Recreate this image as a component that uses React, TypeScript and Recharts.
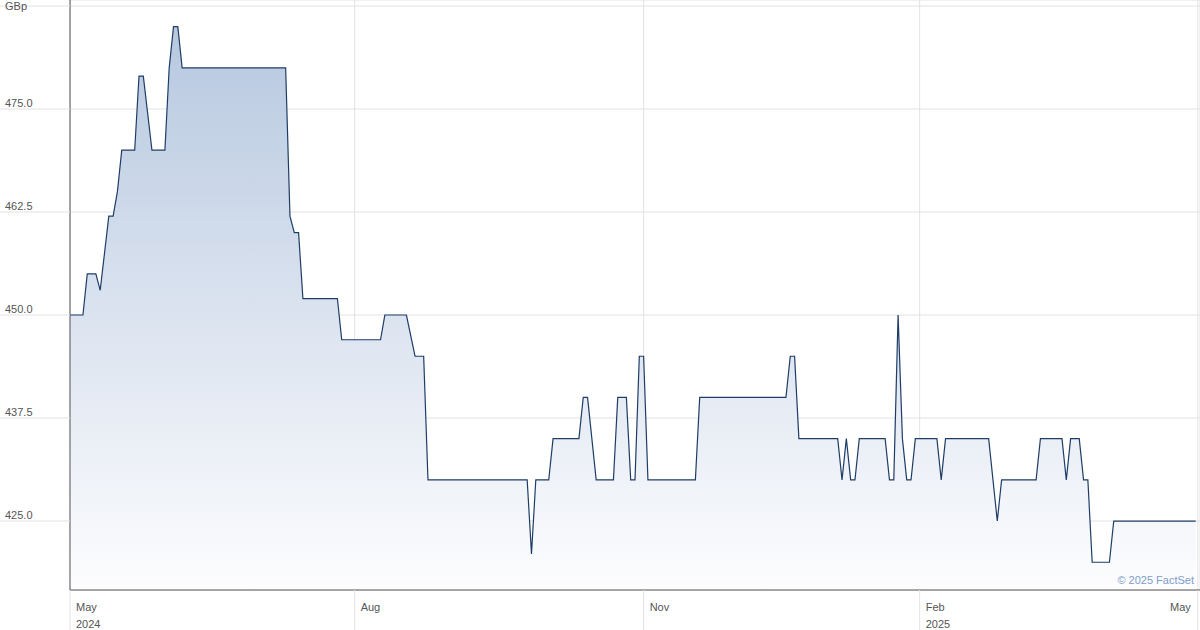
import { AreaChart, Area, XAxis, YAxis, CartesianGrid } from "recharts";

// trading-day index since 1 May 2024, and price (GBp) at each change point
const days = [
  0, 3, 4, 6, 7, 9, 10, 11, 12, 15, 16, 17, 19, 22, 23, 24, 25, 26, 50, 51,
  52, 53, 54, 62, 63, 72, 73, 78, 80, 82, 83, 106, 107, 108, 111, 112, 118,
  119, 120, 122, 126, 127, 129, 130, 131, 132, 133, 134, 145, 146, 166, 167,
  168, 169, 178, 179, 180, 181, 182, 183, 189, 190, 191, 192, 193, 194, 195,
  196, 201, 202, 203, 213, 215, 216, 224, 225, 230, 231, 232, 234, 235, 236,
  237, 241, 242, 261,
];
const prices = [
  450, 450, 455, 455, 453, 462, 462, 465, 470, 470, 479, 479, 470, 470, 480,
  485, 485, 480, 480, 462, 460, 460, 452, 452, 447, 447, 450, 450, 445, 445,
  430, 430, 421, 430, 430, 435, 435, 440, 440, 430, 430, 440, 440, 430, 430,
  445, 445, 430, 430, 440, 440, 445, 445, 435, 435, 430, 435, 430, 430, 435,
  435, 430, 430, 450, 435, 430, 430, 435, 435, 430, 435, 435, 425, 430, 430,
  435, 435, 430, 435, 435, 430, 430, 420, 420, 425, 425,
];

const tickDays = [0, 66, 133, 197, 261.5];
const tickMonths = ["May", "Aug", "Nov", "Feb", "May"];
const tickYears = ["2024", "", "", "2025", ""];
const priceTicks = [425, 437.5, 450, 462.5, 475, 487.5];

const data = days.map((d, i) => ({ d, p: prices[i] }));

const FONT = '"Liberation Sans", Arial, sans-serif';
const GRID = "#e2e2e2";

function YTick(props: any) {
  const { y, payload } = props;
  const v = payload.value as number;
  const isUnit = v === 487.5;
  return (
    <g>
      <line x1={0} x2={70} y1={y} y2={y} stroke={GRID} />
      <text
        x={5}
        y={isUnit ? y + 4 : y - 2}
        fontSize={11}
        fill="#555"
        fontFamily={FONT}
      >
        {isUnit ? "GBp" : v.toFixed(1)}
      </text>
    </g>
  );
}

function XTick(props: any) {
  const { x, index } = props;
  const last = index === tickDays.length - 1;
  return (
    <g>
      <line x1={x} x2={x} y1={590} y2={630} stroke={GRID} />
      <text
        x={last ? x - 7 : x + 6}
        y={611}
        textAnchor={last ? "end" : "start"}
        fontSize={11}
        fill="#555"
        fontFamily={FONT}
      >
        {tickMonths[index]}
      </text>
      {tickYears[index] && (
        <text x={x + 6} y={628} fontSize={11} fill="#555" fontFamily={FONT}>
          {tickYears[index]}
        </text>
      )}
    </g>
  );
}

export default function App() {
  return (
    <div
      style={{
        position: "absolute",
        left: 0,
        top: 0,
        width: 1200,
        height: 630,
        background: "#fff",
      }}
    >
      <AreaChart
        width={1200}
        height={630}
        data={data}
        margin={{ top: 0, right: 0, left: 0, bottom: 0 }}
      >
        <defs>
          <linearGradient id="fillPrice" x1="0" y1="0" x2="0" y2="1">
            <stop offset="0%" stopColor="#b7c8e0" />
            <stop offset="100%" stopColor="#fdfdfe" />
          </linearGradient>
        </defs>
        <CartesianGrid stroke={GRID} />
        <XAxis
          dataKey="d"
          type="number"
          domain={[0, 262]}
          ticks={tickDays}
          interval={0}
          height={40}
          tickLine={false}
          axisLine={{ stroke: "#555" }}
          tick={(p: any) => <XTick {...p} />}
        />
        <YAxis
          type="number"
          domain={[416.63, 488.23]}
          ticks={priceTicks}
          interval={0}
          width={70}
          tickLine={false}
          axisLine={{ stroke: "#555" }}
          tick={(p: any) => <YTick {...p} />}
        />
        <Area
          type="linear"
          dataKey="p"
          stroke="#1e3d66"
          strokeWidth={1.2}
          fill="url(#fillPrice)"
          fillOpacity={1}
          isAnimationActive={false}
          dot={false}
          activeDot={false}
        />
      </AreaChart>
      <div
        style={{
          position: "absolute",
          right: 6,
          top: 574,
          fontSize: 11,
          color: "#7b9ccb",
          fontFamily: FONT,
        }}
      >
        © 2025 FactSet
      </div>
    </div>
  );
}
